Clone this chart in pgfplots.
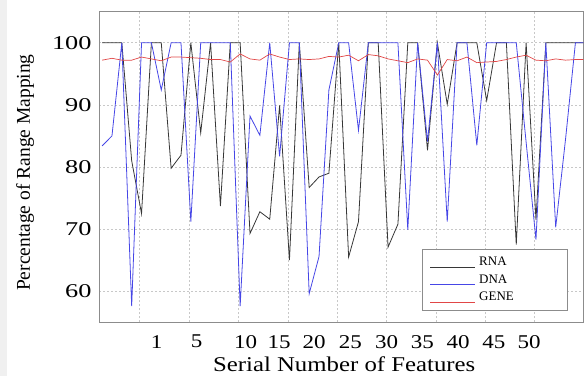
\documentclass[border=0pt]{standalone}
\usepackage{pgfplots}
\pgfplotsset{compat=1.18}
\usepackage{pgfplotstable}
\usepackage{graphicx}
\usepackage{fontspec}
\setmainfont{Liberation Serif}
\definecolor{rnacol}{RGB}{55,55,55}
\definecolor{dnacol}{RGB}{70,70,230}
\definecolor{genecol}{RGB}{225,70,70}
\definecolor{gridcol}{RGB}{200,200,200}
\definecolor{framecol}{RGB}{140,140,140}
\newcommand\sx[1]{\scalebox{1.18}[1]{#1}}
\newcommand\sy[1]{\scalebox{1.35}[1]{#1}}
\newcommand\lentry[3]{\makebox[129pt][l]{\textcolor{#1}{\rule[-1.7pt]{45pt}{#2}}\hspace{4pt}\rule[-3pt]{0pt}{12pt}#3}}
\pgfplotsset{
  nolegimg/.style={legend image code/.code={}},
}

\pgfplotstableread{
k rna dna gene
0 100 83.4 97.2
1 100 85.0 97.5
2 100 100 97.2
3 81.0 57.6 97.2
4 72.5 100 97.7
5 100 100 97.4
6 100 92.4 97.1
7 79.8 100 97.7
8 81.9 100 97.7
9 100 71.2 97.6
10 85.5 100 97.5
11 100 100 97.3
12 73.7 100 97.3
13 100 100 96.9
14 100 57.6 98.2
15 69.3 88.2 97.4
16 72.8 85.1 97.2
17 71.6 100 98.2
18 89.9 81.7 97.7
19 65.0 100 97.3
20 100 100 97.4
21 76.7 59.6 97.3
22 78.4 65.6 97.4
23 79.0 92.4 97.8
24 100 100 97.7
25 65.5 100 98.0
26 71.2 85.9 97.1
27 100 100 98.1
28 100 100 97.9
29 67.1 100 97.4
30 70.8 100 97.1
31 100 69.9 96.8
32 100 100 97.4
33 82.7 84.1 97.2
34 100 100 94.8
35 90.1 71.2 97.3
36 100 100 97.1
37 100 100 97.7
38 100 83.5 96.8
39 90.7 100 96.9
40 100 100 97.0
41 100 100 97.3
42 67.5 100 97.7
43 100 84.0 98.0
44 71.5 68.3 97.2
45 100 100 97.1
46 100 70.3 97.4
47 100 84.5 97.2
48 100 100 97.3
49 100 100 97.3
}\datatable

\begin{document}
\begin{tikzpicture}
\useasboundingbox (0,0) rectangle (585pt,376pt);
\fill[black!6] (0,0) rectangle (7pt,376pt);
\begin{axis}[
  at={(99.3pt,53.7pt)}, anchor=south west,
  scale only axis, width=484pt, height=310.6pt,
  xmin=-0.284, xmax=48.8, ymin=55, ymax=105,
  clip=true,
  axis line style={framecol, line width=0.8pt},
  xtick={5.54,9.59,14.56,17.94,21.49,25.17,28.86,32.47,36.1,39.72,43.3},
  xticklabels={\sx{1},\sx{5},\sx{10},\sx{15},\sx{20},\sx{25},\sx{30},\sx{35},\sx{40},\sx{45},\sx{50}},
  ytick={60,70,80,90,100},
  yticklabels={\sy{60},\sy{70},\sy{80},\sy{90},\sy{100}},
  major tick length=0pt,
  tick style={draw=none},
  extra x ticks={3.74,8.81,13.78,18.85,23.82,28.79,33.86,38.83,43.8},
  extra x tick labels={},
  extra x tick style={grid=major},
  ymajorgrids,
  grid style={gridcol, dash pattern=on 2pt off 2pt, line width=0.6pt},
  tick label style={font=\fontsize{19.5}{20}\selectfont, inner sep=0pt},
  xticklabel style={anchor=north, yshift=-12.7pt},
  yticklabel style={anchor=east, xshift=-7.6pt},
  xlabel={\scalebox{1.18}[1]{Serial Number of Features}},
  xlabel style={font=\fontsize{21}{21}\selectfont, at={(axis description cs:0.506,-0.159)}, anchor=base, inner sep=0pt},
  ylabel={Percentage of Range Mapping},
  ylabel style={font=\fontsize{19.5}{20}\selectfont, at={(axis description cs:-0.1433,0.482)}, anchor=base, inner sep=0pt},
  legend style={at={(axis description cs:0.6661,0.235)}, anchor=north west,
    draw=framecol, fill=white,
    inner xsep=8.3pt, inner ysep=7.35pt, row sep=7pt, column sep=0pt,
    font=\fontsize{13}{13}\selectfont, nodes={inner sep=0pt}},
  legend cell align=left,
]
\addplot[color=rnacol, line width=0.8pt, nolegimg] table[x=k, y=rna] {\datatable};
\addlegendentry{\lentry{rnacol}{0.8pt}{RNA}}
\addplot[color=dnacol, line width=0.8pt, nolegimg] table[x=k, y=dna] {\datatable};
\addlegendentry{\lentry{dnacol}{0.8pt}{DNA}}
\addplot[color=genecol, line width=0.7pt, nolegimg] table[x=k, y=gene] {\datatable};
\addlegendentry{\lentry{genecol}{0.7pt}{GENE}}
\end{axis}
\end{tikzpicture}
\end{document}
